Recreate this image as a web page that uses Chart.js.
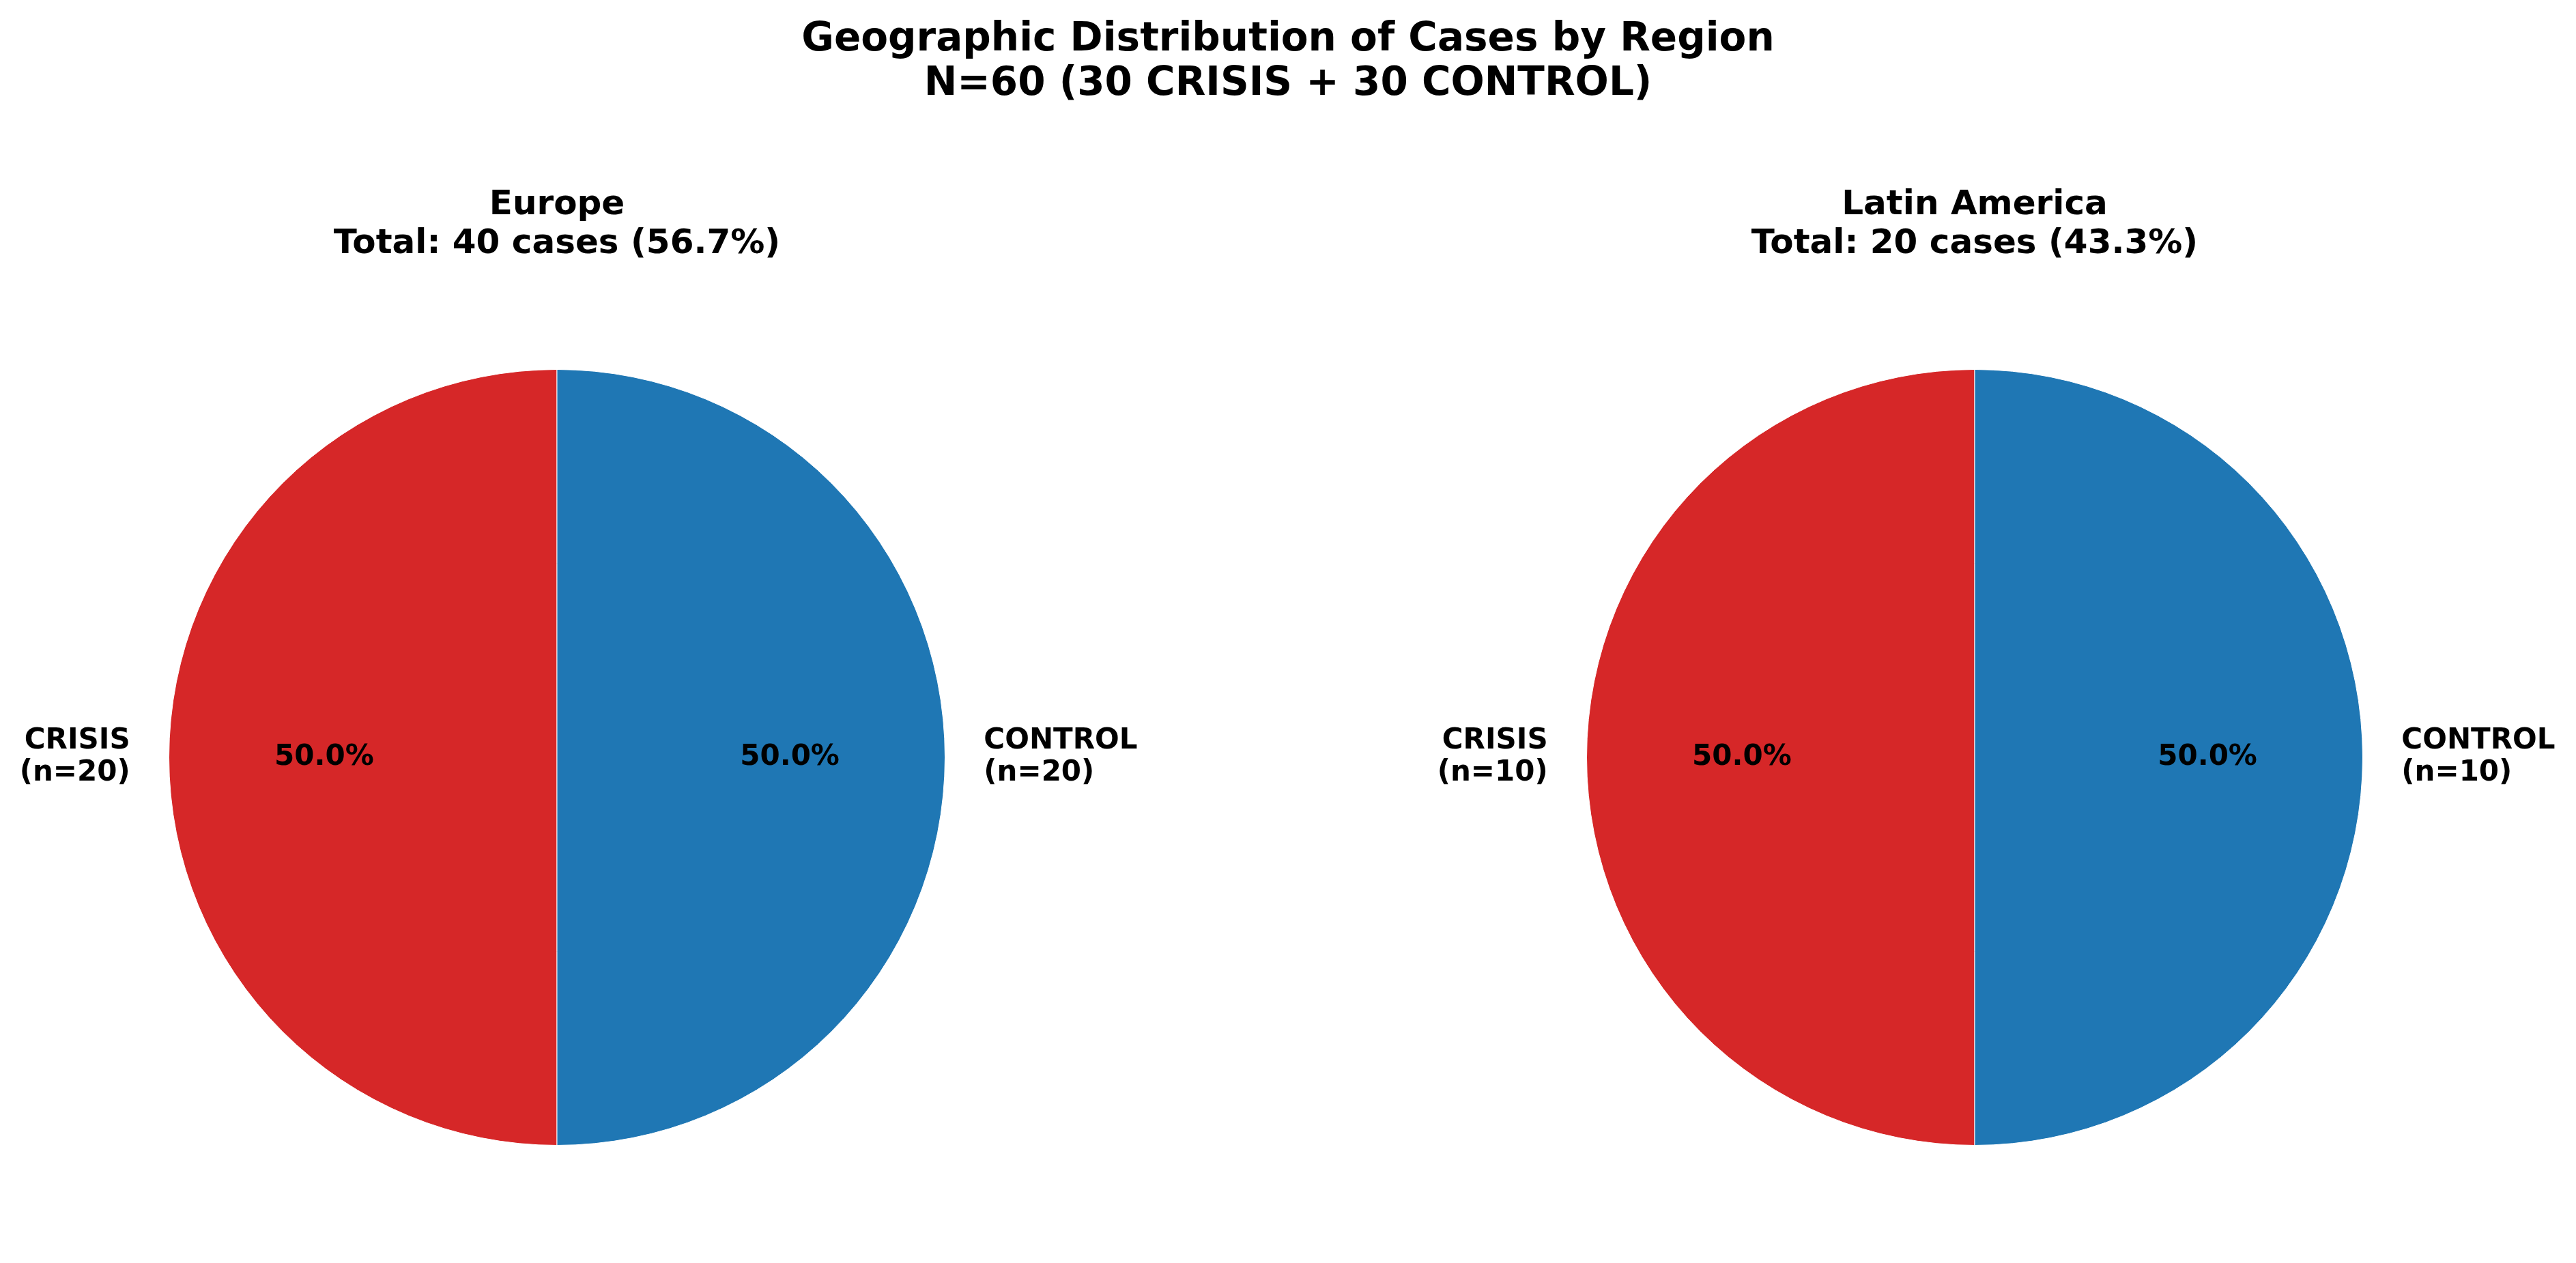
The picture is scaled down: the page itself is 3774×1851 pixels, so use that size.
<!DOCTYPE html>
<html>
<head>
<meta charset="utf-8">
<script src="https://cdn.jsdelivr.net/npm/chart.js@4/dist/chart.umd.min.js"></script>
<style>
  html, body { margin: 0; padding: 0; background: #ffffff; }
  body { width: 3774px; height: 1851px; position: relative; overflow: hidden; }
  #suptitle {
    position: absolute; left: 0; top: 22px; width: 3774px; text-align: center;
    font-family: "DejaVu Sans", sans-serif; font-weight: bold; font-size: 58px;
    line-height: 65px; color: #000;
  }
  canvas { position: absolute; top: 0; }
</style>
</head>
<body>
<div id="suptitle">Geographic Distribution of Cases by Region<br>N=60 (30 CRISIS + 30 CONTROL)</div>
<canvas id="c0" width="1887" height="1851" style="left:0px"></canvas>
<canvas id="c1" width="1887" height="1851" style="left:1887px"></canvas>
<script>
// ---- data ----
const regions = ['Europe', 'Latin America'];
const regionTotals = [40, 20];
const regionShares = ['56.7%', '43.3%'];
const categories = ['CRISIS', 'CONTROL'];
const europeCounts = [20, 20];
const latinAmericaCounts = [10, 10];
const seriesCounts = [europeCounts, latinAmericaCounts];
const sliceColors = ['#d62728', '#1f77b4'];

// ---- layout ----
const FONT = '"DejaVu Sans", sans-serif';
const PIE_TOP = 541, PIE_BOTTOM_PAD = 1851 - 1679;
const leftPads = [816 - 569, 2893 - 1887 - 569];
const rightPads = [1887 - 816 - 569, 3774 - 2893 - 569];

const textPlugin = {
  id: 'pieText',
  afterDraw(chart, args, opts) {
    const ctx = chart.ctx;
    const meta = chart.getDatasetMeta(0);
    const arcs = meta.data;
    const cx = arcs[0].x, cy = arcs[0].y, r = arcs[0].outerRadius;
    const data = chart.data.datasets[0].data;
    const total = data.reduce((a, b) => a + b, 0);
    ctx.save();
    ctx.fillStyle = '#000';
    // subplot title
    ctx.font = 'bold 50px ' + FONT;
    ctx.textAlign = 'center';
    ctx.textBaseline = 'middle';
    ctx.fillText(opts.title1, cx, 301);
    ctx.fillText(opts.title2, cx, 358);
    // labels and percentages
    arcs.forEach((arc, i) => {
      const mid = (arc.startAngle + arc.endAngle) / 2;
      const cosA = Math.cos(mid), sinA = Math.sin(mid);
      ctx.font = 'bold 42px ' + FONT;
      ctx.textAlign = 'center';
      ctx.textBaseline = 'middle';
      const pct = (data[i] / total * 100).toFixed(1) + '%';
      ctx.fillText(pct, cx + cosA * r * 0.6, cy + sinA * r * 0.6);
      const lx = cx + cosA * r * 1.1, ly = cy + sinA * r * 1.1;
      ctx.textAlign = cosA < 0 ? 'right' : 'left';
      const lines = [chart.data.labels[i], '(n=' + data[i] + ')'];
      const lh = 47;
      lines.forEach((t, k) => {
        ctx.fillText(t, lx, ly + (k - (lines.length - 1) / 2) * lh);
      });
    });
    ctx.restore();
  }
};

regions.forEach((reg, idx) => {
  new Chart(document.getElementById('c' + idx), {
    type: 'pie',
    data: {
      labels: categories,
      datasets: [{
        data: seriesCounts[idx],
        backgroundColor: sliceColors,
        borderColor: '#ffffff',
        borderWidth: 1
      }]
    },
    options: {
      responsive: false,
      animation: false,
      rotation: 180,
      layout: { padding: { top: PIE_TOP, bottom: PIE_BOTTOM_PAD, left: leftPads[idx], right: rightPads[idx] } },
      plugins: {
        legend: { display: false },
        tooltip: { enabled: false },
        title: { display: false },
        pieText: { title1: reg, title2: 'Total: ' + regionTotals[idx] + ' cases (' + regionShares[idx] + ')' }
      }
    },
    plugins: [textPlugin]
  });
});
</script>
</body>
</html>
